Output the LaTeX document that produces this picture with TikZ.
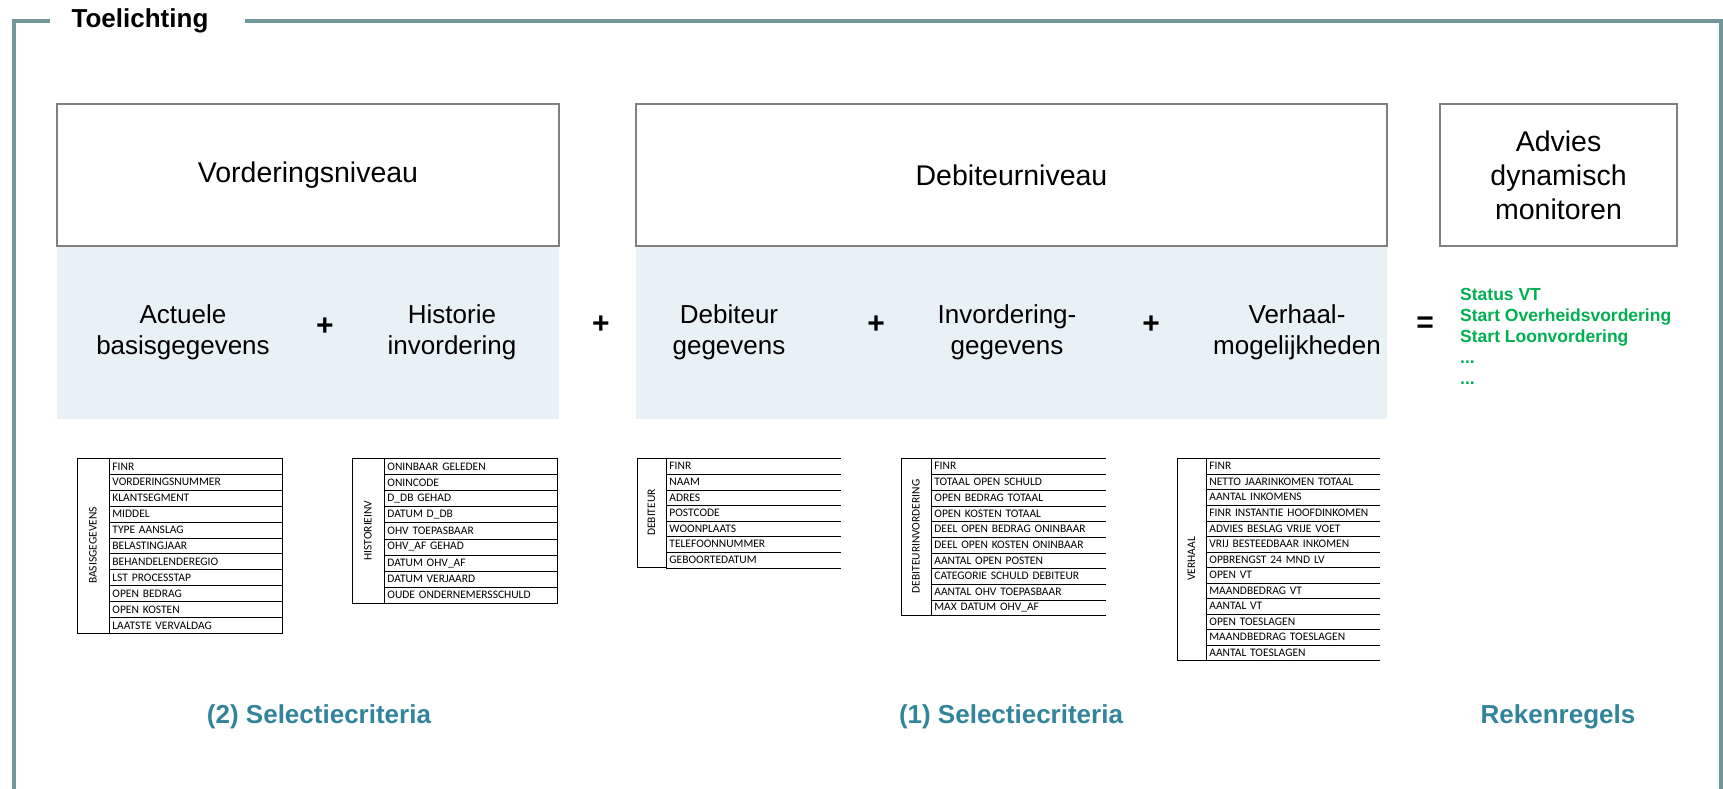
\documentclass[tikz,border=0pt]{standalone}
\usepackage{fontspec}
\setmainfont{Liberation Sans}
\newfontfamily\tabfont{Carlito}
\definecolor{kaderkleur}{HTML}{73969B}
\definecolor{bandkleur}{HTML}{E8F1F4}
\definecolor{groenkleur}{HTML}{00B050}
\definecolor{kopkleur}{HTML}{31849B}
\tikzset{
	kader/.style      = {draw=kaderkleur, line width=4pt},
	niveau/.style     = {rectangle, draw=gray, line width=1.5pt, fill=white,
		align=center, font=\fontsize{28.5}{34}\selectfont},
	band/.style       = {rectangle, fill=bandkleur, inner sep=0pt},
	blok/.style       = {align=center, font=\fontsize{26}{31}\selectfont},
	teken/.style      = {font=\fontsize{30}{36}\selectfont\bfseries},
	groen/.style      = {align=left, text=groenkleur, inner sep=0pt,
		font=\fontsize{17.5}{21}\selectfont\bfseries},
	kop/.style        = {text=kopkleur, font=\fontsize{26}{31}\selectfont\bfseries},
	veld/.style 2 args = {draw, line width=0.8pt, anchor=north west,
		inner xsep=3pt, inner ysep=0pt, text width=#1, minimum height=#2,
		align=left, font=\tabfont\fontsize{11.5}{13}\selectfont},
	openveld/.style 2 args = {veld={#1}{#2}, draw=none},
	tabelkop/.style 2 args = {draw, line width=0.8pt, rotate=90, inner sep=0pt,
		minimum width=#1, minimum height=#2, font=\tabfont\fontsize{11.5}{13}\selectfont},
	lijn/.style       = {line width=0.8pt}
}
\begin{document}
\begin{tikzpicture}[x=1pt, y=-1pt]
	\useasboundingbox (0,0) rectangle (1723,789);

	% kader met titel
	\node[font=\fontsize{26}{31}\selectfont\bfseries] (titel) at (140,21) {Toelichting};
	\draw[kader] (50,21) -- (14,21) -- (14,789);
	\draw[kader] (245,21) -- (1721,21) -- (1721,789);

	% niveaus
	\node[band, minimum width=502pt, minimum height=173pt] (vordband) at (308,332.5) {};
	\node[band, minimum width=751pt, minimum height=173pt] (debband) at (1011.5,332.5) {};
	\node[niveau, minimum width=502pt, minimum height=142pt] (vord) at (308,175) {Vorderingsniveau};
	\node[niveau, minimum width=751pt, minimum height=142pt] (deb) at (1011.5,175) {Debiteurniveau};
	\node[niveau, minimum width=237pt, minimum height=142pt] (advies) at (1558.5,175) {Advies\\dynamisch\\monitoren};

	% blokken in de band
	\node[blok] (actueel) at (183,332) {Actuele\\basisgegevens};
	\node[teken] (plus1) at (325,327) {+};
	\node[blok] (historie) at (452,332) {Historie\\invordering};
	\node[teken] (plus2) at (601,325) {+};
	\node[blok] (debgeg) at (729,332) {Debiteur\\gegevens};
	\node[teken] (plus3) at (876,325) {+};
	\node[blok] (invgeg) at (1007,332) {Invordering-\\gegevens};
	\node[teken] (plus4) at (1151,325) {+};
	\node[blok] (verhaal) at (1297,332) {Verhaal-\\mogelijkheden};
	\node[teken] (is) at (1425,325) {=};
	\node[groen, anchor=north west] (uitkomst) at (1460,288)
		{Status VT\\Start Overheidsvordering\\Start Loonvordering\\...\\...};

	% tabel basisgegevens
	\node[tabelkop={175pt}{32pt}] (basis-kop) at (93,545.5) {BASISGEGEVENS};
	\foreach \veldnaam [count=\i] in {FINR, VORDERINGSNUMMER, KLANTSEGMENT, MIDDEL,
		TYPE AANSLAG, BELASTINGJAAR, BEHANDELENDEREGIO, LST PROCESSTAP,
		OPEN BEDRAG, OPEN KOSTEN, LAATSTE VERVALDAG}
		\node[veld={167pt}{15.9pt}] (basis-\i) at (109,{458+(\i-1)*15.9}) {\veldnaam};

	% tabel historie
	\node[tabelkop={145pt}{32pt}] (hist-kop) at (368,530.5) {HISTORIEINV};
	\foreach \veldnaam [count=\i] in {ONINBAAR GELEDEN, ONINCODE, D\_DB GEHAD,
		DATUM D\_DB, OHV TOEPASBAAR, OHV\_AF GEHAD, DATUM OHV\_AF,
		DATUM VERJAARD, OUDE ONDERNEMERSSCHULD}
		\node[veld={167pt}{16.1pt}] (hist-\i) at (384,{458+(\i-1)*16.1}) {\veldnaam};

	% tabel debiteur
	\node[tabelkop={109pt}{29pt}] (deb-kop) at (651.5,512.5) {DEBITEUR};
	\foreach \veldnaam [count=\i] in {FINR, NAAM, ADRES, POSTCODE, WOONPLAATS,
		TELEFOONNUMMER, GEBOORTEDATUM}{
		\node[openveld={168pt}{15.6pt}] (deb-\i) at (666,{458+(\i-1)*15.6}) {\veldnaam};
		\draw[lijn] (deb-\i.south west) -- (deb-\i.south east);
	}
	\draw[lijn] (deb-1.north west) -- (deb-1.north east);

	% tabel debiteur invordering
	\node[tabelkop={157pt}{30pt}] (inv-kop) at (916,536.5) {DEBITEURINVORDERING};
	\foreach \veldnaam [count=\i] in {FINR, TOTAAL OPEN SCHULD, OPEN BEDRAG TOTAAL,
		OPEN KOSTEN TOTAAL, DEEL OPEN BEDRAG ONINBAAR, DEEL OPEN KOSTEN ONINBAAR,
		AANTAL OPEN POSTEN, CATEGORIE SCHULD DEBITEUR, AANTAL OHV TOEPASBAAR,
		MAX DATUM OHV\_AF}{
		\node[openveld={168pt}{15.7pt}] (inv-\i) at (931,{458+(\i-1)*15.7}) {\veldnaam};
		\draw[lijn] (inv-\i.south west) -- (inv-\i.south east);
	}
	\draw[lijn] (inv-1.north west) -- (inv-1.north east);

	% tabel verhaal
	\node[tabelkop={202pt}{29pt}] (verh-kop) at (1191.5,559) {VERHAAL};
	\foreach \veldnaam [count=\i] in {FINR, NETTO JAARINKOMEN TOTAAL, AANTAL INKOMENS,
		FINR INSTANTIE HOOFDINKOMEN, ADVIES BESLAG VRIJE VOET, VRIJ BESTEEDBAAR INKOMEN,
		OPBRENGST 24 MND LV, OPEN VT, MAANDBEDRAG VT, AANTAL VT, OPEN TOESLAGEN,
		MAANDBEDRAG TOESLAGEN, AANTAL TOESLAGEN}{
		\node[openveld={167pt}{15.54pt}] (verh-\i) at (1206,{458+(\i-1)*15.54}) {\veldnaam};
		\draw[lijn] (verh-\i.south west) -- (verh-\i.south east);
	}
	\draw[lijn] (verh-1.north west) -- (verh-1.north east);

	% onderschriften
	\node[kop] (crit2) at (319,717) {(2) Selectiecriteria};
	\node[kop] (crit1) at (1011,717) {(1) Selectiecriteria};
	\node[kop] (regels) at (1558,717) {Rekenregels};
\end{tikzpicture}
\end{document}
